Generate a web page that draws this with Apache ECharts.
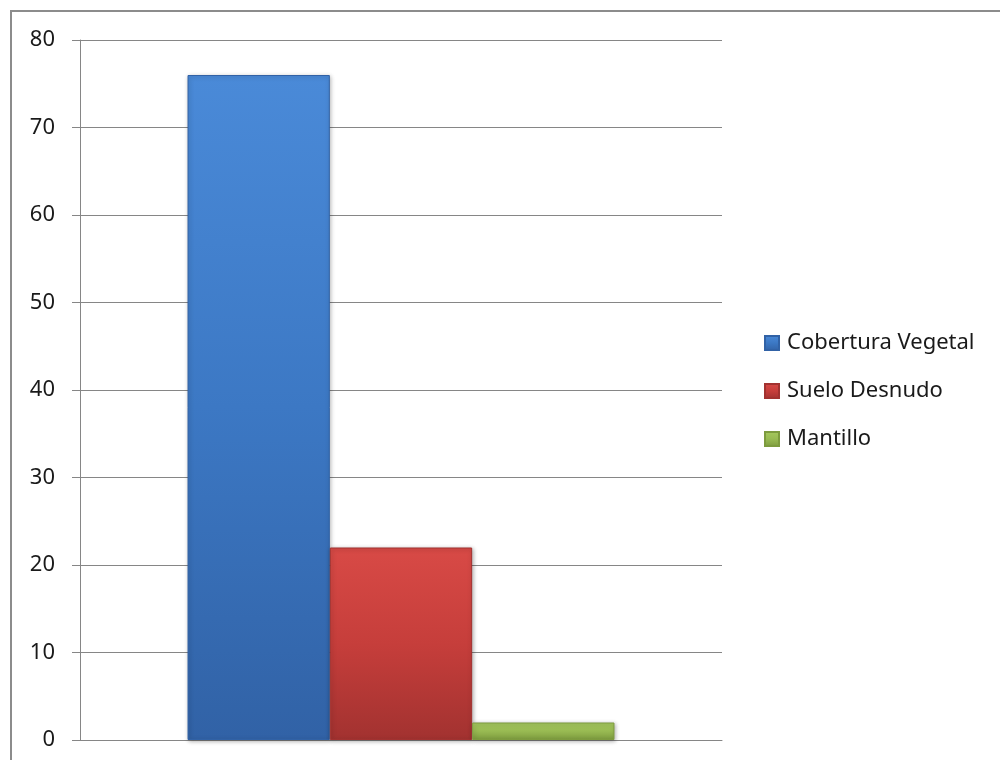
<!DOCTYPE html>
<html><head><meta charset="utf-8">
<script src="https://cdn.jsdelivr.net/npm/echarts@6/dist/echarts.min.js"></script>
<style>html,body{margin:0;padding:0;background:#fff}#c{width:1000px;height:760px}</style>
</head><body><div id="c"></div>
<script>
const categories = [''];
const seriesNames = ['Cobertura Vegetal', 'Suelo Desnudo', 'Mantillo'];
const coberturaVegetal = [76];
const sueloDesnudo = [22];
const mantillo = [2];
const yTicks = [0, 10, 20, 30, 40, 50, 60, 70, 80];

const palette = [
  ['#4a8ad8', '#3c78c4', '#3162a6'],
  ['#d84a46', '#c63e3b', '#a23230'],
  ['#a6c95e', '#98ba52', '#7d9b3e']
];
function grad(p){
  return new echarts.graphic.LinearGradient(0,0,0,1,[
    {offset:0,color:p[0]},{offset:0.5,color:p[1]},{offset:1,color:p[2]}]);
}
const values = [coberturaVegetal, sueloDesnudo, mantillo];
const chart = echarts.init(document.getElementById('c'), null, {renderer:'canvas'});
const font = 'Noto Sans';
chart.setOption({
  animation:false,
  backgroundColor:'#fff',
  graphic:[{type:'rect', shape:{x:11,y:11,width:1100,height:900}, style:{fill:'none', stroke:'#8c8c8c', lineWidth:2}, z:-1}],
  grid:{left:80, right:278, top:40, bottom:20},
  legend:{
    orient:'vertical', left:764, top:332, padding:0, itemWidth:14, itemHeight:14, itemGap:26, icon:'rect',
    textStyle:{fontFamily:font, fontSize:22, lineHeight:20, color:'#1a1a1a', padding:[0,0,0,3]},
    data:seriesNames
  },
  xAxis:{type:'category', data:categories,
    axisLine:{lineStyle:{color:'#868686', width:1}}, axisTick:{show:false}, axisLabel:{show:false}},
  yAxis:{type:'value', min:yTicks[0], max:yTicks[yTicks.length-1], interval:10,
    axisLine:{show:true, lineStyle:{color:'#868686'}},
    axisTick:{show:true, length:8, lineStyle:{color:'#868686'}},
    axisLabel:{fontFamily:font, fontSize:22, color:'#1a1a1a', margin:25},
    splitLine:{lineStyle:{color:'#868686', width:1}}},
  series: seriesNames.map((n,i)=>({
    name:n, type:'bar', data:values[i], barGap:'0%', barCategoryGap:'33.5%',
    itemStyle:{color:grad(palette[i]), borderColor:palette[i][2], borderWidth:1,
      shadowColor:'rgba(0,0,0,0.3)', shadowBlur:4, shadowOffsetX:1, shadowOffsetY:1}
  }))
});
</script></body></html>
